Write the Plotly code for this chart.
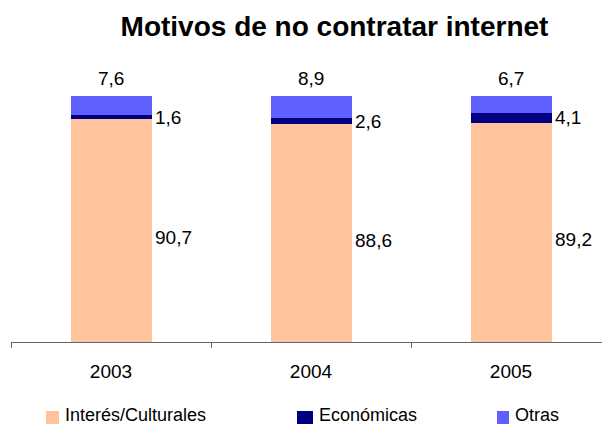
import plotly.graph_objects as go

anios = ["2003", "2004", "2005"]
interes_culturales = [90.7, 88.6, 89.2]
economicas = [1.6, 2.6, 4.1]
otras = [7.6, 8.9, 6.7]

series = [
    ("Interés/Culturales", interes_culturales, "#FFC49E"),
    ("Económicas", economicas, "#000080"),
    ("Otras", otras, "#6060FF"),
]

FONT = "Liberation Sans, Arial, sans-serif"
W, H = 602, 426

fig = go.Figure()
for naam, waarden, kleur in series:
    fig.add_trace(go.Bar(x=anios, y=waarden, name=naam, showlegend=False,
                         marker=dict(color=kleur, line=dict(width=0))))


def fmt(v):
    return f"{v:.1f}".replace(".", ",")


anotaciones = []
for i, anio in enumerate(anios):
    base = interes_culturales[i]
    # etiquetas a la derecha de la barra
    anotaciones.append(dict(x=i, y=base / 2, text=fmt(base), showarrow=False,
                            xanchor="left", xshift=42, yshift=-7))
    anotaciones.append(dict(x=i, y=base + economicas[i] / 2, text=fmt(economicas[i]),
                            showarrow=False, xanchor="left", xshift=42))
    totaal = base + economicas[i] + otras[i]
    anotaciones.append(dict(x=i, y=min(totaal, 100), text=fmt(otras[i]), showarrow=False,
                            yanchor="middle", yshift=18))

# leyenda manual (cuadrado + texto)
leyenda_x = [46, 297, 497]
leyenda_ancho = [13, 16, 12]
formas = []
for (naam, _, kleur), lx, lw in zip(series, leyenda_x, leyenda_ancho):
    formas.append(dict(type="rect", xref="paper", yref="paper",
                       x0=(lx - 11) / (W - 11), x1=(lx + lw - 11) / (W - 11),
                       y0=-(411 - 342) / 246, y1=-(424 - 342) / 246,
                       fillcolor=kleur, line=dict(width=0)))
    anotaciones.append(dict(xref="paper", yref="paper", x=(lx + lw + 4 - 11) / (W - 11),
                            y=-(415 - 342) / 246, text=naam, showarrow=False,
                            xanchor="left", yanchor="middle", font=dict(size=18)))

fig.update_layout(
    width=W,
    height=H,
    barmode="stack",
    bargap=0.595,
    plot_bgcolor="white",
    paper_bgcolor="white",
    font=dict(family=FONT, size=19, color="black"),
    title=dict(text="<b>Motivos de no contratar internet</b>", x=334.5 / W, xanchor="center",
               y=1 - 26 / H, yanchor="middle", font=dict(size=28, family=FONT)),
    margin=dict(t=96, b=84, l=11, r=0),
    xaxis=dict(type="category", range=[-0.5, 2.455], showline=True, linecolor="#666666",
               linewidth=1, ticks="outside", tickson="boundaries", ticklen=5,
               tickcolor="#666666", showgrid=False, tickfont=dict(size=19),
               ticklabelstandoff=12),
    yaxis=dict(range=[0, 100.1], visible=False, showgrid=False),
    annotations=anotaciones,
    shapes=formas,
    showlegend=False,
)

fig.write_html("out.html", config={"displayModeBar": False},
               post_script="document.body.style.margin='0';")
